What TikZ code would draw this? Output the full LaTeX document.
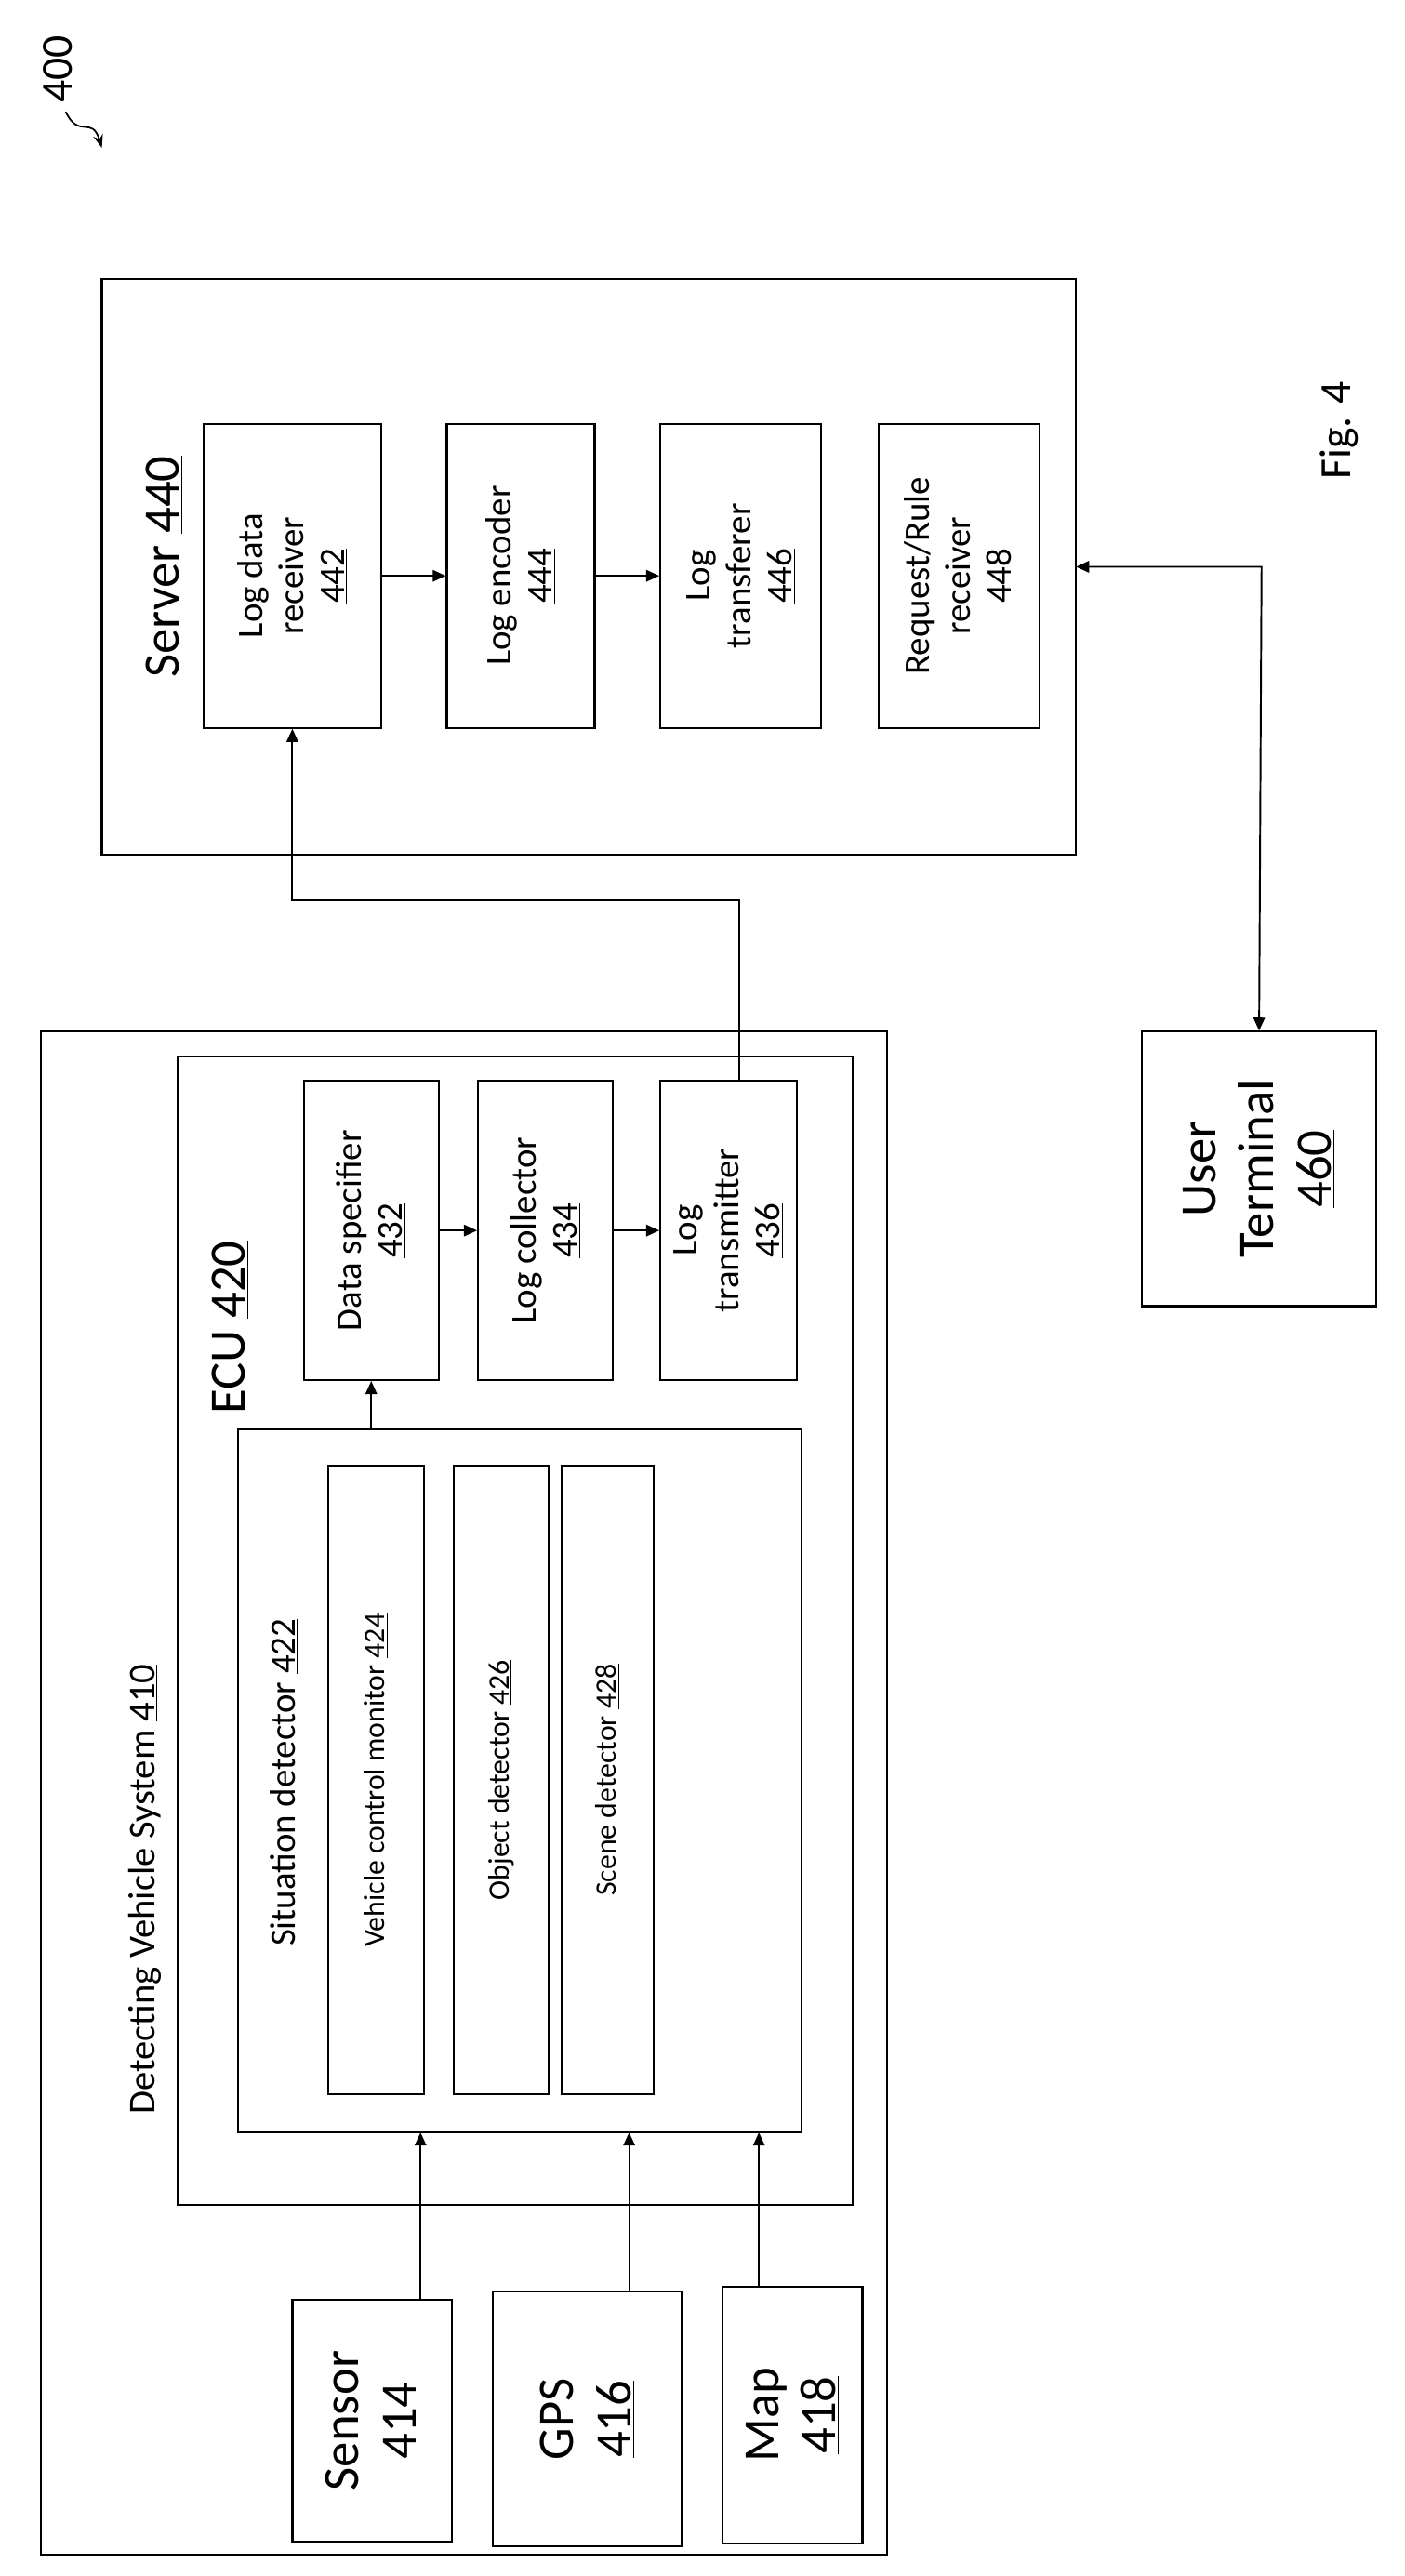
\documentclass[tikz,border=0pt]{standalone}
\usepackage{fontspec}
\setmainfont{Carlito}
\usetikzlibrary{arrows.meta}
\begin{document}
\begin{tikzpicture}[x=1pt,y=-1pt,
 box/.style={draw,line width=1.2pt},
 lab/.style={rotate=90,align=center,font=\fontsize{22}{25}\selectfont},
 small/.style={rotate=90,align=center,font=\fontsize{18}{21}\selectfont},
 big/.style={rotate=90,align=center,font=\fontsize{31}{35}\selectfont},
 arr/.style={-{Triangle[length=8pt,width=7pt]},line width=1.1pt}]
\useasboundingbox (0,0) rectangle (855,1568);
\node[rotate=90,font=\fontsize{27}{30}\selectfont] (n400) at (35,42) {400};
\coordinate (a400) at (62,90);
\draw[-{Stealth[length=8pt]},line width=1pt] (40,68) .. controls (48,85) and (56,70) .. (a400);
% server
\node[box,minimum width=593,minimum height=350] (srv) at (358.5,345) {};
\node[rotate=90,font=\fontsize{31}{35}\selectfont] at (100,345) {Server \underline{440}};
\node[box,lab,minimum width=185,minimum height=108] (ldr) at (178,350.5) {Log data\\receiver\\\underline{442}};
\node[box,lab,minimum width=185,minimum height=90] (le) at (317,350.5) {Log encoder\\\underline{444}};
\node[box,lab,minimum width=185,minimum height=98] (lt) at (451,350.5) {Log\\transferer\\\underline{446}};
\node[box,lab,minimum width=185,minimum height=98] (rr) at (584,350.5) {Request/Rule\\receiver\\\underline{448}};
\draw[arr] (ldr) -- (le);
\draw[arr] (le) -- (lt);
\node[rotate=90,font=\fontsize{27}{30}\selectfont] (fig) at (815,262) {Fig. 4};
% vehicle
\node[box,minimum width=515,minimum height=927] (dvs) at (282.5,1091.5) {};
\node[rotate=90,font=\fontsize{23}{26}\selectfont] at (88,1150) {Detecting Vehicle System \underline{410}};
\node[box,minimum width=411,minimum height=699] (ecu) at (313.5,992.5) {};
\node[rotate=90,font=\fontsize{31}{35}\selectfont] at (140,808) {ECU \underline{420}};
\node[box,lab,minimum width=182,minimum height=82] (ds) at (226,749) {Data specifier\\\underline{432}};
\node[box,lab,minimum width=182,minimum height=82] (lc) at (332,749) {Log collector\\\underline{434}};
\node[box,lab,minimum width=182,minimum height=83] (ltx) at (443.5,749) {Log\\transmitter\\\underline{436}};
\draw[arr] (ds) -- (lc);
\draw[arr] (lc) -- (ltx);
\node[box,minimum width=343,minimum height=428] (sd) at (316.5,1084) {};
\node[rotate=90,font=\fontsize{22}{25}\selectfont] at (173,1085) {Situation detector \underline{422}};
\node[box,small,minimum width=383,minimum height=58] (vcm) at (229,1083.5) {Vehicle control monitor \underline{424}};
\node[box,small,minimum width=383,minimum height=58] (od) at (305,1083.5) {Object detector \underline{426}};
\node[box,small,minimum width=383,minimum height=56] (scd) at (370,1083.5) {Scene detector \underline{428}};
\draw[arr] (226,870) -- (ds.west);
\node[box,big,minimum width=147,minimum height=97] (sen) at (226.5,1473.5) {Sensor\\\underline{414}};
\node[box,big,minimum width=155,minimum height=115] (gps) at (357.5,1472.5) {GPS\\\underline{416}};
\node[box,big,minimum width=156,minimum height=85] (map) at (482.5,1470) {Map\\\underline{418}};
\draw[arr] (256,1400) -- (256,1298);
\draw[arr] (383,1395) -- (383,1298);
\draw[arr] (462,1392) -- (462,1298);
\draw[arr] (450,658) -- (450,548) -- (178,548) -- (ldr.west);
% user terminal
\node[box,big,minimum width=167,minimum height=143] (ut) at (766.5,711.5) {User\\Terminal\\\underline{460}};
\draw[{Triangle[length=8pt,width=7pt]}-{Triangle[length=8pt,width=7pt]},line width=1.1pt] (ut.east) -- (768,345) -- (655,345);
\end{tikzpicture}
\end{document}
